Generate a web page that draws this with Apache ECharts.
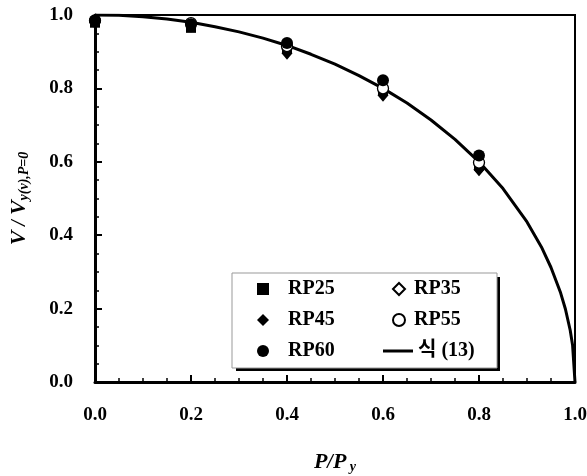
<!DOCTYPE html>
<html>
<head>
<meta charset="utf-8">
<script src="https://cdn.jsdelivr.net/npm/echarts@6/dist/echarts.min.js"></script>
<style>
  html, body { margin: 0; padding: 0; background: #fff; }
  #chart { width: 587px; height: 476px; }
</style>
</head>
<body>
<div id="chart"></div>
<script>
// P/Py 위치 (측정점)
const pRatio = [0, 0.2, 0.4, 0.6, 0.8];
const rp25 = [0.979, 0.965, 0.91, 0.795, 0.59];
const rp35 = [0.98, 0.972, 0.905, 0.79, 0.58];
const rp45 = [0.98, 0.97, 0.896, 0.781, 0.578];
const rp55 = [0.985, 0.978, 0.915, 0.80, 0.598];
const rp60 = [0.985, 0.975, 0.924, 0.822, 0.617];

// 식 (13) 곡선
const eqX = [0, 0.05, 0.1, 0.15, 0.2, 0.25, 0.3, 0.35, 0.4, 0.45, 0.5, 0.55, 0.6, 0.65, 0.7, 0.75, 0.8, 0.85, 0.9, 0.93, 0.95, 0.97, 0.98, 0.99, 0.995, 1.0];
const eqY = [1.0, 0.999, 0.995, 0.989, 0.98, 0.968, 0.954, 0.937, 0.917, 0.893, 0.866, 0.835, 0.8, 0.76, 0.714, 0.661, 0.6, 0.527, 0.436, 0.368, 0.312, 0.243, 0.199, 0.141, 0.1, 0.0];

const tickLabels = ['0.0', '0.2', '0.4', '0.6', '0.8', '1.0'];

const pts = arr => arr.map((v, i) => [pRatio[i], v]);
const font = "'Liberation Serif', 'Noto Sans CJK KR', serif";

const titleRich = {
    a: { fontFamily: font, fontStyle: 'italic', fontWeight: 'bold', fontSize: 22, color: '#000' },
    s: { fontFamily: font, fontStyle: 'italic', fontWeight: 'bold', fontSize: 20, color: '#000' },
    b: { fontFamily: font, fontStyle: 'italic', fontWeight: 'bold', fontSize: 14, color: '#000', verticalAlign: 'bottom', padding: [9, 0, 0, 0] },
};

const legendText = (gap) => ({
    fontFamily: font, fontWeight: 'bold', fontSize: 20, color: '#000', lineHeight: 20,
    rich: { g: { width: gap } },
});

const chart = echarts.init(document.getElementById('chart'));

const option = {
    backgroundColor: '#fff',
    animation: false,
    grid: {
        left: 95, right: 12, top: 15, bottom: 94,
        outerBoundsMode: 'none',
        containLabel: false,
        show: true,
        borderColor: '#000',
        borderWidth: 2,
    },
    xAxis: {
        type: 'value',
        min: 0, max: 1, interval: 0.2,
        name: '{a|P}{s|/}{a|P}{b| y}',
        nameLocation: 'middle',
        nameGap: 69,
        nameTextStyle: { rich: titleRich },
        axisLine: { lineStyle: { color: '#000', width: 3 } },
        axisTick: { inside: true, length: 7, lineStyle: { color: '#000', width: 2 } },
        minorTick: { show: true, splitNumber: 4, length: 4, lineStyle: { color: '#000', width: 1.5 } },
        splitLine: { show: false },
        axisLabel: {
            margin: 24,
            fontFamily: font, fontWeight: 'bold', fontSize: 19, color: '#000',
            formatter: (v) => tickLabels[Math.round(v / 0.2)],
        },
    },
    yAxis: {
        type: 'value',
        min: 0, max: 1, interval: 0.2,
        name: '{a|V}{s| / }{a|V}{b|y(v),P=0}',
        nameLocation: 'middle',
        nameRotate: 90,
        nameGap: 64,
        nameTextStyle: { rich: titleRich },
        axisLine: { show: true, lineStyle: { color: '#000', width: 3 } },
        axisTick: { show: true, inside: true, length: 7, lineStyle: { color: '#000', width: 2 } },
        minorTick: { show: true, splitNumber: 4, length: 4, lineStyle: { color: '#000', width: 1.5 } },
        splitLine: { show: false },
        axisLabel: {
            margin: 22,
            fontFamily: font, fontWeight: 'bold', fontSize: 19, color: '#000',
            formatter: (v) => tickLabels[Math.round(v / 0.2)],
        },
    },
    legend: [
        {
            orient: 'vertical',
            left: 257, top: 279, padding: 0,
            itemWidth: 12, itemHeight: 12, itemGap: 11,
            data: ['RP25', 'RP45', 'RP60'],
            formatter: '{g|}{name}',
            textStyle: legendText(14),
            z: 10,
        },
        {
            orient: 'vertical',
            left: 392, top: 279, padding: 0,
            itemWidth: 12, itemHeight: 12, itemGap: 11,
            data: ['RP35', 'RP55'],
            formatter: '{g|}{name}',
            textStyle: legendText(4),
            z: 10,
        },
        {
            orient: 'vertical',
            left: 383, top: 341, padding: 0,
            itemWidth: 30, itemHeight: 3,
            data: [{ name: '식 (13)', icon: 'rect' }],
            textStyle: legendText(0),
            z: 10,
        },
    ],
    graphic: [
        { type: 'rect', z: 5, shape: { x: 236, y: 277, width: 264, height: 94 }, style: { fill: '#000' } },
        { type: 'rect', z: 6, shape: { x: 232, y: 273, width: 265, height: 95 }, style: { fill: '#fff', stroke: '#999', lineWidth: 1 } },
    ],
    series: [
        {
            name: '식 (13)',
            type: 'line',
            data: eqX.map((x, i) => [x, eqY[i]]),
            showSymbol: false,
            symbol: 'none',
            smooth: false,
            lineStyle: { color: '#000', width: 3 },
            itemStyle: { color: '#000' },
            z: 2,
        },
        {
            name: 'RP25', type: 'scatter', data: pts(rp25),
            symbol: 'rect', symbolSize: 10,
            itemStyle: { color: '#000', opacity: 1 }, z: 3,
        },
        {
            name: 'RP35', type: 'scatter', data: pts(rp35),
            symbol: 'diamond', symbolSize: [9, 11],
            itemStyle: { color: '#fff', borderColor: '#000', borderWidth: 1.3, opacity: 1 }, z: 3,
        },
        {
            name: 'RP45', type: 'scatter', data: pts(rp45),
            symbol: 'diamond', symbolSize: [11, 13],
            itemStyle: { color: '#000', opacity: 1 }, z: 3,
        },
        {
            name: 'RP55', type: 'scatter', data: pts(rp55),
            symbol: 'circle', symbolSize: 11,
            itemStyle: { color: '#fff', borderColor: '#000', borderWidth: 1.3, opacity: 1 }, z: 3,
        },
        {
            name: 'RP60', type: 'scatter', data: pts(rp60),
            symbol: 'circle', symbolSize: 12,
            itemStyle: { color: '#000', opacity: 1 }, z: 3,
        },
    ],
};

chart.setOption(option);
</script>
</body>
</html>
